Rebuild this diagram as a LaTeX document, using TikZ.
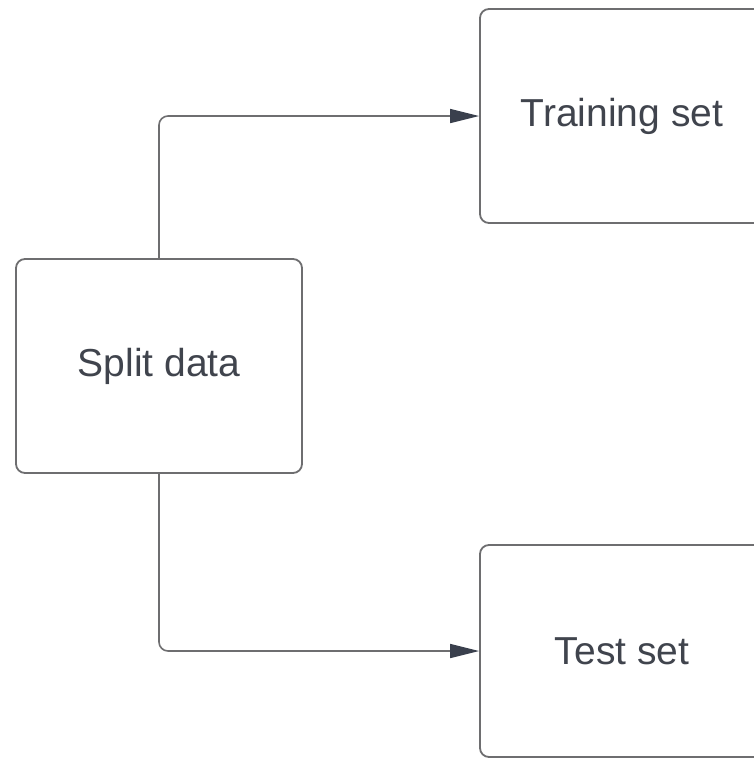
\documentclass[tikz,border=0pt]{standalone}
\usepackage{fontspec}
\setmainfont{Liberation Sans}
\usetikzlibrary{arrows.meta}
\definecolor{boxline}{HTML}{6E6E70}
\definecolor{txt}{HTML}{40444D}
\definecolor{tip}{HTML}{3A404D}
\tikzset{
  box/.style={draw=boxline, line width=1.8pt, rounded corners=9pt, fill=white,
    inner sep=0pt, text=txt, font=\fontsize{39}{45}\selectfont},
  conn/.style={draw=boxline, line width=1.6pt, rounded corners=9pt,
    -{Triangle[length=29pt,width=14pt,color=tip]}}
}
\begin{document}
\begin{tikzpicture}[x=1pt,y=-1pt]
\useasboundingbox (0,0) rectangle (754,758);
\clip (0,0) rectangle (754,758);
\node[box, minimum width=286pt, minimum height=214pt] (split) at (159,366) {Split data};
\node[box, minimum width=284pt, minimum height=214pt] (train) at (622,116) {Training set};
\node[box, minimum width=284pt, minimum height=212pt] (test) at (622,651) {Test set};
\draw[conn] (split.north) |- (train.west);
\draw[conn] (split.south) |- (test.west);
\end{tikzpicture}
\end{document}
